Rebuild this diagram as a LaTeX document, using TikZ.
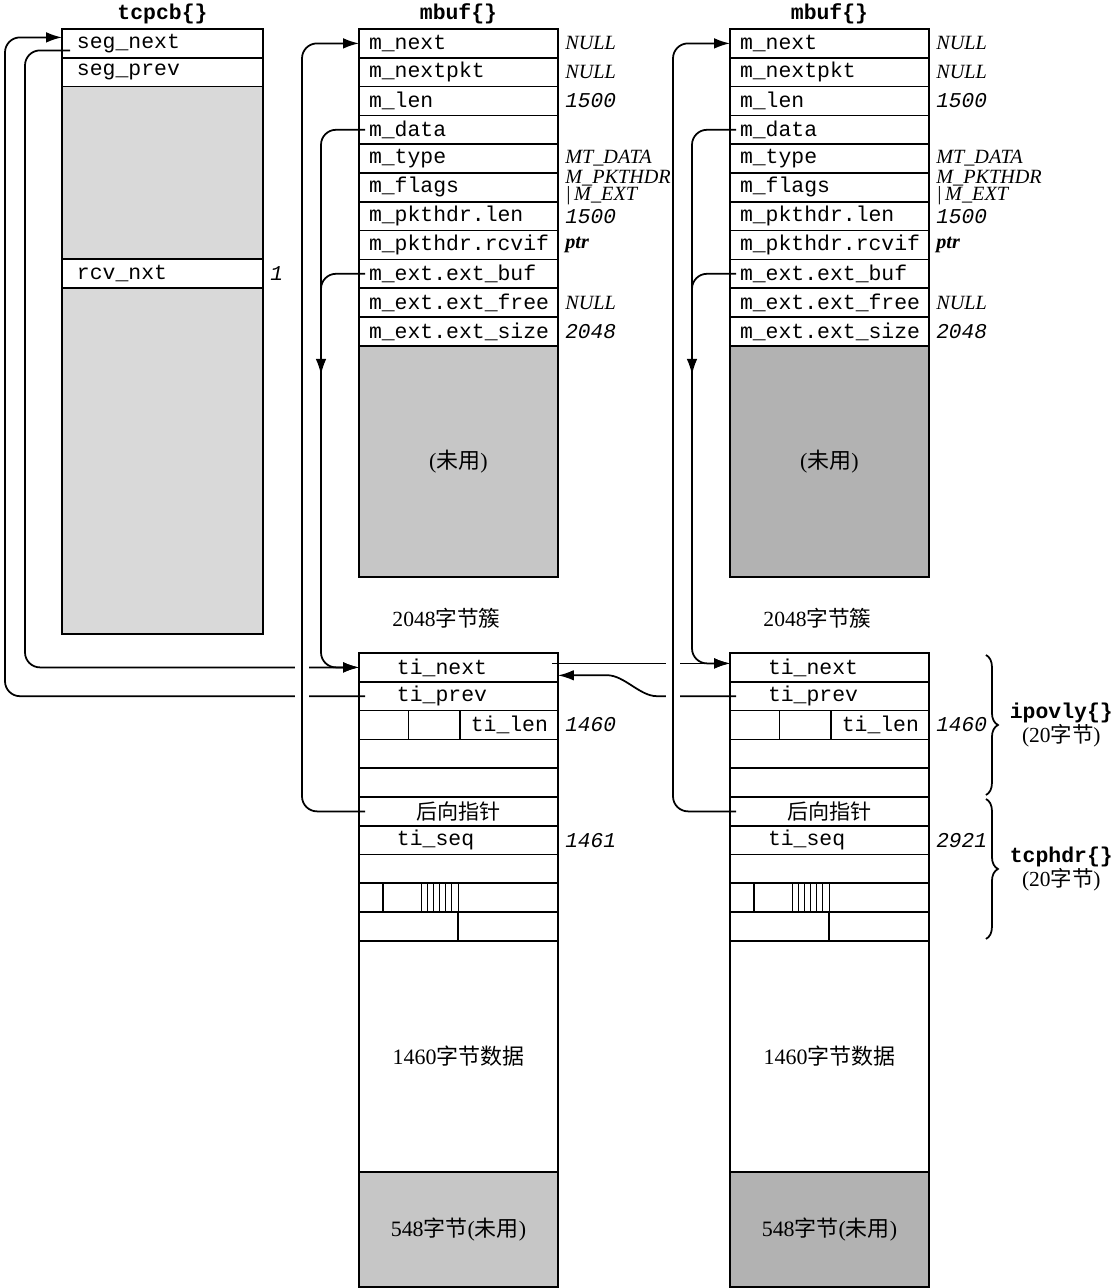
\documentclass[tikz,border=0pt]{standalone}
\usepackage{fontspec}
\setmainfont{Liberation Serif}
\setmonofont{Liberation Mono}
\newfontfamily\cjk{Noto Sans CJK SC}
\usetikzlibrary{positioning, arrows.meta, decorations.pathreplacing}

\begin{document}
\begin{tikzpicture}[
    x=0.02cm, y=-0.02cm,
    field/.style={rectangle, draw, line width=1pt, outer sep=0pt, anchor=north west,
      minimum height=0.576cm, inner ysep=0pt, inner xsep=0.2cm, text width=3.58cm,
      align=left, font=\fontsize{12.2}{14}\selectfont\ttfamily},
    tcbfield/.style={field, inner xsep=0.3cm, text width=3.42cm},
    tifield/.style={field, inner xsep=0.76cm, text width=2.46cm},
    shade/.style={rectangle, draw, line width=1pt, outer sep=0pt, anchor=north west, inner sep=0pt,
      minimum width=3.98cm, font=\fontsize{12.5}{14}\selectfont},
    value/.style={anchor=west, inner sep=0pt, xshift=0.14cm, align=left,
      font=\fontsize{11.5}{10}\selectfont\itshape},
    numval/.style={value, font=\fontsize{12}{14}\selectfont\ttfamily\itshape},
    title/.style={inner sep=0pt, font=\fontsize{12.2}{14}\selectfont\ttfamily\bfseries},
    note/.style={inner sep=0pt, font=\fontsize{12.3}{14}\selectfont},
    brace/.style={line width=1pt, decorate, decoration={brace, amplitude=0.24cm}},
    bracelabel/.style={right=0.46cm, inner sep=0pt, align=center, font=\fontsize{12.2}{10.5}\selectfont},
    ptr/.style={line width=1pt, rounded corners=0.3cm},
    arrow/.style={ptr, -{Latex[length=9pt, width=6pt]}}
  ]
  \useasboundingbox (0,0) rectangle (1117,1288);

  % tcpcb
  \node[tcbfield] (tcb-1) at (62,29) {seg\_next};
  \node[title, above=0.1cm of tcb-1] (tcb-t) {tcpcb\{\}};
  \node[tcbfield, below=0pt of tcb-1] (tcb-2) {seg\_prev};
  \node[shade, fill=gray!30, minimum width=4.02cm, minimum height=3.456cm, below=0pt of tcb-2] (tcb-s1) {};
  \node[tcbfield, below=0pt of tcb-s1] (tcb-3) {rcv\_nxt};
  \node[shade, fill=gray!30, minimum width=4.02cm, minimum height=6.916cm, below=0pt of tcb-3] (tcb-s2) {};
  \node[numval] (tcb-3-v) at (tcb-3.east) {1};

  % mbufs, clusters and segments
  \foreach \bx/\s/\g/\tseq in {359/a/45/1461, 730/b/60/2921} {
    \foreach \f [count=\i] in {m\_next, m\_nextpkt, m\_len, m\_data, m\_type, m\_flags,
        m\_pkthdr.len, m\_pkthdr.rcvif, m\_ext.ext\_buf, m\_ext.ext\_free, m\_ext.ext\_size}
      \node[field] (m\s-\i) at (\bx, 29+28.8*\i-28.8) {\f};
    \node[title, above=0.1cm of m\s-1] (m\s-t) {mbuf\{\}};
    \foreach \i/\val in {1/NULL, 2/NULL, 5/MT\_DATA, 10/NULL}
      \node[value] (m\s-\i-v) at (m\s-\i.east) {\val};
    \foreach \i/\val in {3/1500, 7/1500, 11/2048}
      \node[numval] (m\s-\i-v) at (m\s-\i.east) {\val};
    \node[value] (m\s-6-v) at (m\s-6.east) {M\_PKTHDR\\|\,M\_EXT};
    \node[value, font=\fontsize{11.5}{10}\selectfont\bfseries\itshape] (m\s-8-v) at (m\s-8.east) {ptr};
    \node[shade, fill=gray!\g, minimum height=4.62cm, below=0pt of m\s-11] (m\s-c) {({\cjk 未用})};
    \node[note, below=0.62cm of m\s-c, xshift=-0.24cm] (m\s-c-l) {2048{\cjk 字节簇}};

    \node[tifield] (t\s-1) at (\bx,653) {ti\_next};
    \node[tifield, below=0pt of t\s-1] (t\s-2) {ti\_prev};
    \node[field, align=right, below=0pt of t\s-2] (t\s-3) {ti\_len};
    \node[field, below=0pt of t\s-3] (t\s-4) {};
    \node[field, below=0pt of t\s-4] (t\s-5) {};
    \node[field, align=center, font=\fontsize{12}{14}\selectfont\cjk, below=0pt of t\s-5] (t\s-6) {后向指针};
    \node[tifield, below=0pt of t\s-6] (t\s-7) {ti\_seq};
    \node[field, below=0pt of t\s-7] (t\s-8) {};
    \node[field, below=0pt of t\s-8] (t\s-9) {};
    \node[field, below=0pt of t\s-9] (t\s-10) {};
    \node[field, align=center, minimum height=4.62cm, font=\fontsize{12.5}{14}\selectfont, below=0pt of t\s-10] (t\s-11) {1460{\cjk 字节数据}};
    \node[shade, fill=gray!\g, minimum height=2.3cm, below=0pt of t\s-11] (t\s-12) {548{\cjk 字节}({\cjk 未用})};
    \node[numval] (t\s-3-v) at (t\s-3.east) {1460};
    \node[numval] (t\s-7-v) at (t\s-7.east) {\tseq};
    % small header fields
    \foreach \d in {0.99, 2.02}
      \draw[line width=1pt] ([xshift=\d cm]t\s-3.north west) -- ([xshift=\d cm]t\s-3.south west);
    \draw[line width=1pt] ([xshift=0.48cm]t\s-9.north west) -- ([xshift=0.48cm]t\s-9.south west);
    \foreach \k in {0,...,6}
      \draw ([xshift=1.24cm+\k*0.123cm]t\s-9.north west) -- ([xshift=1.24cm+\k*0.123cm]t\s-9.south west);
    \draw[line width=1pt] ([xshift=1.98cm]t\s-10.north west) -- ([xshift=1.98cm]t\s-10.south west);
  }

  % ipovly / tcphdr
  \draw[brace] ([shift={(57,2)}]tb-1.north east) -- node[bracelabel] (ipovly)
    {{\ttfamily\bfseries ipovly\{\}}\\(20{\cjk 字节})} ([shift={(57,-2)}]tb-5.south east);
  \draw[brace] ([shift={(57,2)}]tb-6.north east) -- node[bracelabel] (tcphdr)
    {{\ttfamily\bfseries tcphdr\{\}}\\(20{\cjk 字节})} ([shift={(57,-2)}]tb-10.south east);

  % tcpcb <-> first segment
  \draw[arrow] ([shift={(8,7)}]tcb-1.west) -- ++(-45,0) |- (ta-1.west);
  \draw[arrow] ([shift={(6,0)}]ta-2.west) -- ++(-360,0) |- ([shift={(0,-6)}]tcb-1.west);
  % segment chain
  \draw[arrow] ([shift={(-6,-4)}]ta-1.east) -- ([shift={(0,-4)}]tb-1.west);
  \draw[arrow] ([shift={(6,0)}]tb-2.west) -- ++(-64,0) to[out=180, in=0] ++(-80,-21) -- ([shift={(0,8)}]ta-1.east);
  % m_data, m_ext.ext_buf
  \foreach \s/\dy in {a/0, b/-4} {
    \draw[arrow] ([shift={(6,0)}]m\s-4.west) -- ++(-44,0) |- ([shift={(0,\dy)}]t\s-1.west);
    \draw[arrow] ([shift={(6,0)}]m\s-9.west) -| ([shift={(-38,101)}]m\s-9.west);
  }
  % hops
  \foreach \cx/\cy in {302/667.4, 302/696.4, 673/667.4, 673/696.4}
    \fill[white] (\cx-7,\cy-6) rectangle (\cx+7,\cy+6);
  % back pointers
  \foreach \s in {a,b}
    \draw[arrow] ([shift={(6,0)}]t\s-6.west) -- ++(-63,0) |- (m\s-1.west);
\end{tikzpicture}
\end{document}
